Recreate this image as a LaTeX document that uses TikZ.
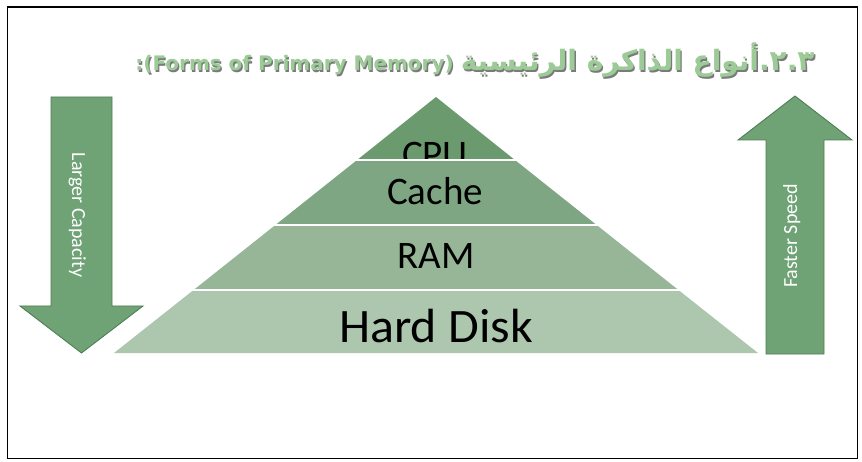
\documentclass[tikz,border=0pt]{standalone}
\usepackage{fontspec}
\setmainfont{Carlito}
\newfontfamily\arabicfont[Script=Arabic]{DejaVu Sans}
\newfontfamily\titlefont{DejaVu Sans}
\TeXXeTstate=1
\definecolor{cpuc}{HTML}{6A9A6D}
\definecolor{cachec}{HTML}{7EA682}
\definecolor{ramc}{HTML}{96B697}
\definecolor{hdc}{HTML}{ADC7AE}
\definecolor{arrowfill}{HTML}{6FA275}
\definecolor{arrowline}{HTML}{4F7F55}
\definecolor{titlegreen}{HTML}{9CCB97}
\definecolor{titleshadow}{HTML}{7A7A7A}
\tikzset{
  layerlabel/.style={inner sep=0pt, anchor=base, text=black, font=\fontsize{39}{39}\selectfont, xscale=1.0},
  arrowbody/.style={fill=arrowfill, draw=arrowline, line width=0.9pt, line join=miter},
  arrowlabel/.style={inner sep=0pt, anchor=base, text=white, font=\fontsize{20}{20}\selectfont},
  sepline/.style={white, line width=2pt},
  titletext/.style={inner sep=0pt, anchor=base}
}
\newcommand{\titlecontent}{{\titlefont\bfseries\fontsize{20}{20}\selectfont :(Forms of Primary Memory) }{\arabicfont\bfseries\fontsize{28}{28}\selectfont\beginR أنواع الذاكرة الرئيسية\endR}{\titlefont\bfseries\fontsize{28}{28}\selectfont .\kern0pt ٢\kern0pt .\kern0pt ٣}}
\begin{document}
\begin{tikzpicture}[x=1pt,y=-1pt]
\useasboundingbox (0,0) rectangle (862,462);
\fill[white] (0,0) rectangle (862,462);
\draw[line width=1.5pt] (7.5,7) rectangle (857.5,458.5);

% title
\node[titletext, text=titleshadow] (titleshadowtext) at (476.3,72.3) {\titlecontent};
\node[titletext, text=titlegreen] (title) at (475,71) {\titlecontent};

% pyramid layers
\fill[cpuc] (436,97) -- (514.9,160) -- (357.1,160) -- cycle;
\node[layerlabel] (cpu) at (435,168) {CPU};
\fill[cachec] (357.1,160) -- (514.9,160) -- (596.6,225) -- (275.4,225) -- cycle;
\node[layerlabel] (cache) at (435,205) {Cache};
\fill[ramc] (275.4,225) -- (596.6,225) -- (678.4,290) -- (193.6,290) -- cycle;
\node[layerlabel] (ram) at (436,269) {RAM};
\fill[hdc] (193.6,290) -- (678.4,290) -- (758,353) -- (114,353) -- cycle;
\node[layerlabel, font=\fontsize{48}{48}\selectfont, xscale=1.04] (hd) at (436,342) {Hard Disk};
\draw[sepline] (356,160) -- (516,160);
\draw[sepline] (274,225) -- (598,225);
\draw[sepline] (192,290) -- (680,290);

% left arrow (down)
\draw[arrowbody] (51,97) -- (112,97) -- (112,306) -- (143,306) -- (81.5,353) -- (20,306) -- (51,306) -- cycle;
\node[arrowlabel, rotate=-90] (cap) at (72,215) {Larger Capacity};

% right arrow (up)
\draw[arrowbody] (766,354) -- (824,354) -- (824,140) -- (852,140) -- (795,96) -- (738,140) -- (766,140) -- cycle;
\node[arrowlabel, rotate=90] (speed) at (797,236) {Faster Speed};
\end{tikzpicture}
\end{document}
